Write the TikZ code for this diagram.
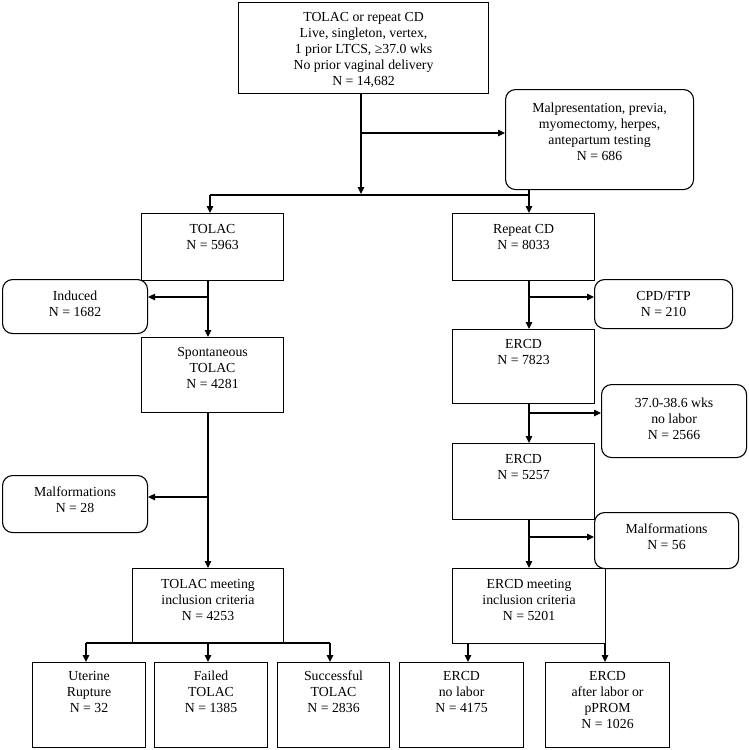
\documentclass[tikz,border=0pt]{standalone}
\usepackage{fontspec}
\setmainfont{Liberation Serif}
\usetikzlibrary{arrows.meta}
\newcommand\bx[8]{%
  \node[#6, anchor=north west, inner sep=0pt] (#1) at (#2,#3)
  {\parbox[t][\dimexpr #5pt-#3pt\relax][t]{\dimexpr #4pt-#2pt\relax}{\centering\rule{0pt}{#7pt}#8}};}
\tikzset{
  box/.style={draw, line width=1.1pt, font=\fontsize{13.8pt}{16pt}\selectfont},
  excl/.style={box, rounded corners=10pt},
  ln/.style={line width=1.1pt},
  arr/.style={ln, -{Triangle[length=7pt,width=6.5pt]}}
}
\begin{document}
\begin{tikzpicture}[x=1pt,y=-1pt]
\useasboundingbox[fill=white] (0,0) rectangle (748,750);
\bx{top}{238}{2}{488}{93}{box}{19}{TOLAC or repeat CD\\Live, singleton, vertex,\\1 prior LTCS, ≥37.0 wks\\No prior vaginal delivery\\N = 14,682}
\bx{mal}{505}{89}{693}{189}{excl}{23}{Malpresentation, previa,\\myomectomy, herpes,\\antepartum testing\\N = 686}
\bx{tolac}{141}{213}{283}{280}{box}{20}{TOLAC\\N = 5963}
\bx{rcd}{452}{213}{594}{280}{box}{20}{Repeat CD\\N = 8033}
\bx{ind}{2}{279}{147}{333}{excl}{21}{Induced\\N = 1682}
\bx{cpd}{594}{279}{732}{328}{excl}{21}{CPD/FTP\\N = 210}
\bx{spon}{141}{337}{283}{412}{box}{19}{Spontaneous\\TOLAC\\N = 4281}
\bx{ercdA}{452}{329}{594}{403}{box}{19}{ERCD\\N = 7823}
\bx{wks}{601}{384}{746}{457}{excl}{23}{37.0-38.6 wks\\no labor\\N = 2566}
\bx{ercdB}{452}{443}{594}{519}{box}{20}{ERCD\\N = 5257}
\bx{malL}{2}{475}{147}{532}{excl}{21}{Malformations\\N = 28}
\bx{malR}{594}{512}{738}{568}{excl}{21}{Malformations\\N = 56}
\bx{tmeet}{132}{568}{283}{643}{box}{20}{TOLAC meeting\\inclusion criteria\\N = 4253}
\bx{emeet}{452}{568}{605}{643}{box}{20}{ERCD meeting\\inclusion criteria\\N = 5201}
\bx{ut}{32}{662}{145}{747}{box}{18}{Uterine\\Rupture\\N = 32}
\bx{fail}{154}{662}{267}{747}{box}{18}{Failed\\TOLAC\\N = 1385}
\bx{succ}{277}{662}{389}{747}{box}{18}{Successful\\TOLAC\\N = 2836}
\bx{enl}{399}{662}{523}{747}{box}{18}{ERCD\\no labor\\N = 4175}
\bx{eal}{545}{662}{669}{747}{box}{18}{ERCD\\after labor or\\pPROM\\N = 1026}
% top connectors
\coordinate (jtop) at (361,194);
\draw[arr] (top.south -| jtop) -- (jtop);
\coordinate (b1) at (361,133);
\draw[arr] (b1) -- (b1 -| mal.west);
\coordinate (sl) at (210,195);
\coordinate (sr) at (529,195);
\draw[ln] (sl) -- (sr);
\draw[arr] (sl) -- (sl |- tolac.north);
\draw[arr] (mal.south -| sr) -- (sr |- rcd.north);
% left column
\coordinate (lc) at (208,0);
\draw[arr] (tolac.south -| lc) -- (spon.north -| lc);
\coordinate (b2) at (208,297);
\draw[arr] (b2) -- (b2 -| ind.east);
\draw[arr] (spon.south -| lc) -- (tmeet.north -| lc);
\coordinate (b3) at (208,497);
\draw[arr] (b3) -- (b3 -| malL.east);
% right column
\coordinate (rc) at (529,0);
\draw[arr] (rcd.south -| rc) -- (ercdA.north -| rc);
\coordinate (b4) at (529,297);
\draw[arr] (b4) -- (b4 -| cpd.west);
\draw[arr] (ercdA.south -| rc) -- (ercdB.north -| rc);
\coordinate (b5) at (529,413);
\draw[arr] (b5) -- (b5 -| wks.west);
\draw[arr] (ercdB.south -| rc) -- (emeet.north -| rc);
\coordinate (b6) at (529,537);
\draw[arr] (b6) -- (b6 -| malR.west);
% bottom left
\coordinate (t1) at (86,643);
\coordinate (t3) at (330,643);
\draw[ln] (t1) -- (t3);
\draw[arr] (t1) -- (t1 |- ut.north);
\draw[arr] (tmeet.south -| lc) -- (fail.north -| lc);
\draw[arr] (t3) -- (t3 |- succ.north);
% bottom right
\coordinate (e1) at (468,643);
\coordinate (e2) at (605,643);
\draw[arr] (e1) -- (e1 |- enl.north);
\draw[arr] (e2) -- (e2 |- eal.north);
\end{tikzpicture}
\end{document}
